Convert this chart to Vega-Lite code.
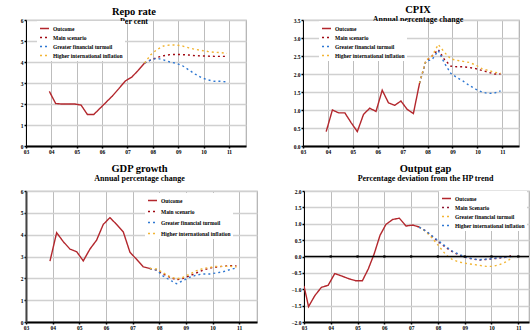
{
  "$schema": "https://vega.github.io/schema/vega-lite/v6.json",
  "background": "white",
  "padding": {"left": 19, "top": 3, "right": 2, "bottom": 2},
  "config": {
    "font": "Liberation Serif",
    "view": {"stroke": "#B0B0B0", "strokeWidth": 1.2},
    "axis": {
      "grid": true, "zindex": 1,
      "labelFont": "Liberation Serif", "labelFontSize": 5.5, "labelFontWeight": "bold", "labelColor": "#000",
      "domainColor": "#000", "tickColor": "#000", "tickSize": 2, "tickWidth": 1.5,
      "labelPadding": 1, "gridColor": "#BDBDBD", "gridOpacity": 1
    },
    "axisX": {"domainWidth": 1.8, "gridWidth": 1, "labelFlush": false},
    "axisY": {"domainWidth": 1, "gridWidth": 1.6, "gridColor": "#D0D0D0"},
    "legend": {
      "labelFont": "Liberation Serif", "labelFontSize": 5.5, "labelFontWeight": "bold", "labelColor": "#000",
      "symbolType": "stroke", "symbolSize": 81, "symbolStrokeWidth": 1.5, "labelOffset": 3, "padding": 2, "rowPadding": 0,
      "fillColor": "white", "zindex": 2
    },
    "title": {
      "anchor": "middle", "font": "Liberation Serif", "fontSize": 10.5, "fontWeight": "bold", "color": "#000",
      "subtitleFont": "Liberation Serif", "subtitleFontSize": 8, "subtitleFontWeight": "bold", "subtitleColor": "#000", "subtitlePadding": 1, "zindex": 2
    },
    "line": {"strokeWidth": 1.4}
  },
  "datasets": {
    "repo": [
      {"t":2003.92,"v":2.6,"s":"Outcome"},{"t":2004.17,"v":2.02,"s":"Outcome"},{"t":2004.42,"v":2.0,"s":"Outcome"},{"t":2004.67,"v":2.0,"s":"Outcome"},{"t":2004.92,"v":2.0,"s":"Outcome"},{"t":2005.17,"v":1.95,"s":"Outcome"},{"t":2005.42,"v":1.5,"s":"Outcome"},{"t":2005.67,"v":1.5,"s":"Outcome"},{"t":2005.92,"v":1.8,"s":"Outcome"},{"t":2006.17,"v":2.1,"s":"Outcome"},{"t":2006.42,"v":2.4,"s":"Outcome"},{"t":2006.67,"v":2.75,"s":"Outcome"},{"t":2006.92,"v":3.1,"s":"Outcome"},{"t":2007.17,"v":3.28,"s":"Outcome"},{"t":2007.42,"v":3.6,"s":"Outcome"},{"t":2007.67,"v":3.95,"s":"Outcome"},
      {"t":2007.67,"v":3.95,"s":"Main scenario"},{"t":2007.92,"v":4.1,"s":"Main scenario"},{"t":2008.17,"v":4.22,"s":"Main scenario"},{"t":2008.42,"v":4.3,"s":"Main scenario"},{"t":2008.67,"v":4.35,"s":"Main scenario"},{"t":2008.92,"v":4.36,"s":"Main scenario"},{"t":2009.17,"v":4.35,"s":"Main scenario"},{"t":2009.42,"v":4.33,"s":"Main scenario"},{"t":2009.67,"v":4.3,"s":"Main scenario"},{"t":2009.92,"v":4.29,"s":"Main scenario"},{"t":2010.17,"v":4.28,"s":"Main scenario"},{"t":2010.42,"v":4.27,"s":"Main scenario"},{"t":2010.67,"v":4.27,"s":"Main scenario"},{"t":2010.92,"v":4.27,"s":"Main scenario"},
      {"t":2007.67,"v":3.95,"s":"Greater financial turmoil"},{"t":2007.92,"v":4.1,"s":"Greater financial turmoil"},{"t":2008.17,"v":4.18,"s":"Greater financial turmoil"},{"t":2008.42,"v":4.1,"s":"Greater financial turmoil"},{"t":2008.67,"v":4.0,"s":"Greater financial turmoil"},{"t":2008.92,"v":3.94,"s":"Greater financial turmoil"},{"t":2009.17,"v":3.82,"s":"Greater financial turmoil"},{"t":2009.42,"v":3.62,"s":"Greater financial turmoil"},{"t":2009.67,"v":3.42,"s":"Greater financial turmoil"},{"t":2009.92,"v":3.25,"s":"Greater financial turmoil"},{"t":2010.17,"v":3.15,"s":"Greater financial turmoil"},{"t":2010.42,"v":3.08,"s":"Greater financial turmoil"},{"t":2010.67,"v":3.08,"s":"Greater financial turmoil"},{"t":2010.92,"v":3.05,"s":"Greater financial turmoil"},
      {"t":2007.67,"v":3.95,"s":"Higher international inflation"},{"t":2007.92,"v":4.35,"s":"Higher international inflation"},{"t":2008.17,"v":4.6,"s":"Higher international inflation"},{"t":2008.42,"v":4.76,"s":"Higher international inflation"},{"t":2008.67,"v":4.81,"s":"Higher international inflation"},{"t":2008.92,"v":4.81,"s":"Higher international inflation"},{"t":2009.17,"v":4.76,"s":"Higher international inflation"},{"t":2009.42,"v":4.67,"s":"Higher international inflation"},{"t":2009.67,"v":4.6,"s":"Higher international inflation"},{"t":2009.92,"v":4.55,"s":"Higher international inflation"},{"t":2010.17,"v":4.5,"s":"Higher international inflation"},{"t":2010.42,"v":4.46,"s":"Higher international inflation"},{"t":2010.67,"v":4.45,"s":"Higher international inflation"},{"t":2010.92,"v":4.41,"s":"Higher international inflation"}
    ],
    "cpix": [
      {"t":2003.93,"v":0.4,"s":"Outcome"},{"t":2004.18,"v":1.0,"s":"Outcome"},{"t":2004.43,"v":0.92,"s":"Outcome"},{"t":2004.68,"v":0.92,"s":"Outcome"},{"t":2004.93,"v":0.65,"s":"Outcome"},{"t":2005.18,"v":0.4,"s":"Outcome"},{"t":2005.43,"v":0.88,"s":"Outcome"},{"t":2005.68,"v":1.05,"s":"Outcome"},{"t":2005.93,"v":0.96,"s":"Outcome"},{"t":2006.18,"v":1.55,"s":"Outcome"},{"t":2006.43,"v":1.2,"s":"Outcome"},{"t":2006.68,"v":1.13,"s":"Outcome"},{"t":2006.93,"v":1.25,"s":"Outcome"},{"t":2007.18,"v":1.02,"s":"Outcome"},{"t":2007.43,"v":0.9,"s":"Outcome"},{"t":2007.68,"v":1.75,"s":"Outcome"},
      {"t":2007.68,"v":1.75,"s":"Main scenario"},{"t":2007.93,"v":2.35,"s":"Main scenario"},{"t":2008.18,"v":2.5,"s":"Main scenario"},{"t":2008.43,"v":2.68,"s":"Main scenario"},{"t":2008.68,"v":2.4,"s":"Main scenario"},{"t":2008.93,"v":2.22,"s":"Main scenario"},{"t":2009.18,"v":2.2,"s":"Main scenario"},{"t":2009.43,"v":2.2,"s":"Main scenario"},{"t":2009.68,"v":2.18,"s":"Main scenario"},{"t":2009.93,"v":2.15,"s":"Main scenario"},{"t":2010.18,"v":2.1,"s":"Main scenario"},{"t":2010.43,"v":2.05,"s":"Main scenario"},{"t":2010.68,"v":2.0,"s":"Main scenario"},{"t":2010.93,"v":2.0,"s":"Main scenario"},
      {"t":2007.68,"v":1.75,"s":"Greater financial turmoil"},{"t":2007.93,"v":2.35,"s":"Greater financial turmoil"},{"t":2008.18,"v":2.4,"s":"Greater financial turmoil"},{"t":2008.43,"v":2.65,"s":"Greater financial turmoil"},{"t":2008.68,"v":2.3,"s":"Greater financial turmoil"},{"t":2008.93,"v":2.02,"s":"Greater financial turmoil"},{"t":2009.18,"v":1.9,"s":"Greater financial turmoil"},{"t":2009.43,"v":1.8,"s":"Greater financial turmoil"},{"t":2009.68,"v":1.68,"s":"Greater financial turmoil"},{"t":2009.93,"v":1.58,"s":"Greater financial turmoil"},{"t":2010.18,"v":1.5,"s":"Greater financial turmoil"},{"t":2010.43,"v":1.46,"s":"Greater financial turmoil"},{"t":2010.68,"v":1.47,"s":"Greater financial turmoil"},{"t":2010.93,"v":1.53,"s":"Greater financial turmoil"},
      {"t":2007.68,"v":1.75,"s":"Higher international inflation"},{"t":2007.93,"v":2.38,"s":"Higher international inflation"},{"t":2008.18,"v":2.5,"s":"Higher international inflation"},{"t":2008.43,"v":2.82,"s":"Higher international inflation"},{"t":2008.68,"v":2.6,"s":"Higher international inflation"},{"t":2008.93,"v":2.42,"s":"Higher international inflation"},{"t":2009.18,"v":2.38,"s":"Higher international inflation"},{"t":2009.43,"v":2.35,"s":"Higher international inflation"},{"t":2009.68,"v":2.32,"s":"Higher international inflation"},{"t":2009.93,"v":2.25,"s":"Higher international inflation"},{"t":2010.18,"v":2.15,"s":"Higher international inflation"},{"t":2010.43,"v":2.1,"s":"Higher international inflation"},{"t":2010.68,"v":2.05,"s":"Higher international inflation"},{"t":2010.93,"v":2.02,"s":"Higher international inflation"}
    ],
    "gdp": [
      {"t":2003.9,"v":2.79,"s":"Outcome"},{"t":2004.15,"v":4.09,"s":"Outcome"},{"t":2004.4,"v":3.68,"s":"Outcome"},{"t":2004.65,"v":3.34,"s":"Outcome"},{"t":2004.9,"v":3.22,"s":"Outcome"},{"t":2005.15,"v":2.8,"s":"Outcome"},{"t":2005.4,"v":3.34,"s":"Outcome"},{"t":2005.65,"v":3.75,"s":"Outcome"},{"t":2005.9,"v":4.47,"s":"Outcome"},{"t":2006.15,"v":4.78,"s":"Outcome"},{"t":2006.4,"v":4.47,"s":"Outcome"},{"t":2006.65,"v":4.13,"s":"Outcome"},{"t":2006.9,"v":3.2,"s":"Outcome"},{"t":2007.15,"v":2.87,"s":"Outcome"},{"t":2007.4,"v":2.53,"s":"Outcome"},{"t":2007.65,"v":2.45,"s":"Outcome"},
      {"t":2007.65,"v":2.45,"s":"Main scenario"},{"t":2007.9,"v":2.38,"s":"Main scenario"},{"t":2008.15,"v":2.2,"s":"Main scenario"},{"t":2008.4,"v":2.05,"s":"Main scenario"},{"t":2008.65,"v":1.93,"s":"Main scenario"},{"t":2008.9,"v":2.0,"s":"Main scenario"},{"t":2009.15,"v":2.12,"s":"Main scenario"},{"t":2009.4,"v":2.25,"s":"Main scenario"},{"t":2009.65,"v":2.38,"s":"Main scenario"},{"t":2009.9,"v":2.47,"s":"Main scenario"},{"t":2010.15,"v":2.52,"s":"Main scenario"},{"t":2010.4,"v":2.55,"s":"Main scenario"},{"t":2010.65,"v":2.58,"s":"Main scenario"},{"t":2010.9,"v":2.57,"s":"Main scenario"},
      {"t":2007.65,"v":2.45,"s":"Greater financial turmoil"},{"t":2007.9,"v":2.38,"s":"Greater financial turmoil"},{"t":2008.15,"v":2.1,"s":"Greater financial turmoil"},{"t":2008.4,"v":1.92,"s":"Greater financial turmoil"},{"t":2008.65,"v":1.75,"s":"Greater financial turmoil"},{"t":2008.9,"v":1.9,"s":"Greater financial turmoil"},{"t":2009.15,"v":2.05,"s":"Greater financial turmoil"},{"t":2009.4,"v":2.15,"s":"Greater financial turmoil"},{"t":2009.65,"v":2.2,"s":"Greater financial turmoil"},{"t":2009.9,"v":2.2,"s":"Greater financial turmoil"},{"t":2010.15,"v":2.25,"s":"Greater financial turmoil"},{"t":2010.4,"v":2.3,"s":"Greater financial turmoil"},{"t":2010.65,"v":2.4,"s":"Greater financial turmoil"},{"t":2010.9,"v":2.48,"s":"Greater financial turmoil"},
      {"t":2007.65,"v":2.45,"s":"Higher international inflation"},{"t":2007.9,"v":2.43,"s":"Higher international inflation"},{"t":2008.15,"v":2.25,"s":"Higher international inflation"},{"t":2008.4,"v":2.08,"s":"Higher international inflation"},{"t":2008.65,"v":1.97,"s":"Higher international inflation"},{"t":2008.9,"v":2.05,"s":"Higher international inflation"},{"t":2009.15,"v":2.2,"s":"Higher international inflation"},{"t":2009.4,"v":2.35,"s":"Higher international inflation"},{"t":2009.65,"v":2.45,"s":"Higher international inflation"},{"t":2009.9,"v":2.5,"s":"Higher international inflation"},{"t":2010.15,"v":2.55,"s":"Higher international inflation"},{"t":2010.4,"v":2.55,"s":"Higher international inflation"},{"t":2010.65,"v":2.55,"s":"Higher international inflation"},{"t":2010.9,"v":2.52,"s":"Higher international inflation"}
    ],
    "gap": [
      {"t":2003.0,"v":-0.9,"s":"Outcome"},{"t":2003.17,"v":-1.53,"s":"Outcome"},{"t":2003.4,"v":-1.2,"s":"Outcome"},{"t":2003.65,"v":-0.94,"s":"Outcome"},{"t":2003.9,"v":-0.88,"s":"Outcome"},{"t":2004.15,"v":-0.52,"s":"Outcome"},{"t":2004.42,"v":-0.6,"s":"Outcome"},{"t":2004.68,"v":-0.68,"s":"Outcome"},{"t":2004.93,"v":-0.74,"s":"Outcome"},{"t":2005.18,"v":-0.74,"s":"Outcome"},{"t":2005.4,"v":-0.38,"s":"Outcome"},{"t":2005.62,"v":0.08,"s":"Outcome"},{"t":2005.84,"v":0.65,"s":"Outcome"},{"t":2006.06,"v":0.98,"s":"Outcome"},{"t":2006.31,"v":1.13,"s":"Outcome"},{"t":2006.56,"v":1.17,"s":"Outcome"},{"t":2006.81,"v":0.93,"s":"Outcome"},{"t":2007.06,"v":0.96,"s":"Outcome"},{"t":2007.3,"v":0.9,"s":"Outcome"},
      {"t":2007.3,"v":0.9,"s":"Main Scenario"},{"t":2007.55,"v":0.78,"s":"Main Scenario"},{"t":2007.8,"v":0.6,"s":"Main Scenario"},{"t":2008.05,"v":0.43,"s":"Main Scenario"},{"t":2008.3,"v":0.27,"s":"Main Scenario"},{"t":2008.55,"v":0.14,"s":"Main Scenario"},{"t":2008.8,"v":0.04,"s":"Main Scenario"},{"t":2009.05,"v":-0.03,"s":"Main Scenario"},{"t":2009.3,"v":-0.08,"s":"Main Scenario"},{"t":2009.55,"v":-0.11,"s":"Main Scenario"},{"t":2009.8,"v":-0.09,"s":"Main Scenario"},{"t":2010.05,"v":-0.07,"s":"Main Scenario"},{"t":2010.3,"v":-0.05,"s":"Main Scenario"},{"t":2010.55,"v":-0.02,"s":"Main Scenario"},{"t":2010.8,"v":0.04,"s":"Main Scenario"},
      {"t":2007.3,"v":0.9,"s":"Greater financial turmoil"},{"t":2007.55,"v":0.76,"s":"Greater financial turmoil"},{"t":2007.8,"v":0.55,"s":"Greater financial turmoil"},{"t":2008.05,"v":0.3,"s":"Greater financial turmoil"},{"t":2008.3,"v":0.05,"s":"Greater financial turmoil"},{"t":2008.55,"v":-0.1,"s":"Greater financial turmoil"},{"t":2008.8,"v":-0.17,"s":"Greater financial turmoil"},{"t":2009.05,"v":-0.21,"s":"Greater financial turmoil"},{"t":2009.3,"v":-0.24,"s":"Greater financial turmoil"},{"t":2009.55,"v":-0.27,"s":"Greater financial turmoil"},{"t":2009.8,"v":-0.3,"s":"Greater financial turmoil"},{"t":2010.05,"v":-0.3,"s":"Greater financial turmoil"},{"t":2010.3,"v":-0.25,"s":"Greater financial turmoil"},{"t":2010.55,"v":-0.16,"s":"Greater financial turmoil"},{"t":2010.8,"v":-0.02,"s":"Greater financial turmoil"},
      {"t":2007.3,"v":0.9,"s":"Higher international inflation"},{"t":2007.55,"v":0.78,"s":"Higher international inflation"},{"t":2007.8,"v":0.62,"s":"Higher international inflation"},{"t":2008.05,"v":0.46,"s":"Higher international inflation"},{"t":2008.3,"v":0.3,"s":"Higher international inflation"},{"t":2008.55,"v":0.16,"s":"Higher international inflation"},{"t":2008.8,"v":0.06,"s":"Higher international inflation"},{"t":2009.05,"v":-0.02,"s":"Higher international inflation"},{"t":2009.3,"v":-0.07,"s":"Higher international inflation"},{"t":2009.55,"v":-0.1,"s":"Higher international inflation"},{"t":2009.8,"v":-0.08,"s":"Higher international inflation"},{"t":2010.05,"v":-0.06,"s":"Higher international inflation"},{"t":2010.3,"v":-0.03,"s":"Higher international inflation"},{"t":2010.55,"v":-0.02,"s":"Higher international inflation"},{"t":2010.8,"v":0.0,"s":"Higher international inflation"}
    ]
  },
  "resolve": {"scale": {"color": "independent", "strokeDash": "independent"}, "legend": {"color": "independent", "strokeDash": "independent"}},
  "spacing": 6,
  "vconcat": [
    {
      "spacing": 45,
      "resolve": {"scale": {"color": "independent", "strokeDash": "independent"}, "legend": {"color": "independent", "strokeDash": "independent"}},
      "hconcat": [
        {
          "width": 220, "height": 126,
          "title": {"text": "Repo rate", "subtitle": "Per cent", "offset": -8, "dx": -2},
          "data": {"name": "repo"},
          "mark": {"type": "line"},
          "encoding": {
            "x": {"field": "t", "type": "quantitative", "title": null, "scale": {"domain": [2003, 2011.67], "nice": false, "zero": false}, "axis": {"values": [2003,2004,2005,2006,2007,2008,2009,2010,2011], "format": "d", "labelExpr": "substring(datum.label, 2)"}},
            "y": {"field": "v", "type": "quantitative", "title": null, "scale": {"domain": [0, 6], "nice": false}, "axis": {"values": [0,1,2,3,4,5,6], "format": "d"}},
            "color": {"field": "s", "type": "nominal", "title": null, "scale": {"domain": ["Outcome","Main scenario","Greater financial turmoil","Higher international inflation"], "range": ["#B3272D","#A00812","#2F78D2","#F2B534"]}, "legend": {"orient": "none", "legendX": 11, "legendY": 1}},
            "strokeDash": {"field": "s", "type": "nominal", "title": null, "scale": {"domain": ["Outcome","Main scenario","Greater financial turmoil","Higher international inflation"], "range": [[1,0],[2,3],[2,3],[2,3]]}, "legend": {"orient": "none", "legendX": 11, "legendY": 1}}
          }
        },
        {
          "width": 216, "height": 126,
          "title": {"text": "CPIX", "subtitle": "Annual percentage change", "offset": -6, "dx": 7},
          "data": {"name": "cpix"},
          "mark": {"type": "line"},
          "encoding": {
            "x": {"field": "t", "type": "quantitative", "title": null, "scale": {"domain": [2003, 2011.67], "nice": false, "zero": false}, "axis": {"values": [2003,2004,2005,2006,2007,2008,2009,2010,2011], "format": "d", "labelExpr": "substring(datum.label, 2)"}},
            "y": {"field": "v", "type": "quantitative", "title": null, "scale": {"domain": [0, 3.5], "nice": false}, "axis": {"values": [0,0.5,1,1.5,2,2.5,3,3.5], "format": ".1f"}},
            "color": {"field": "s", "type": "nominal", "title": null, "scale": {"domain": ["Outcome","Main scenario","Greater financial turmoil","Higher international inflation"], "range": ["#B3272D","#A00812","#2F78D2","#F2B534"]}, "legend": {"orient": "none", "legendX": 16, "legendY": 1}},
            "strokeDash": {"field": "s", "type": "nominal", "title": null, "scale": {"domain": ["Outcome","Main scenario","Greater financial turmoil","Higher international inflation"], "range": [[1,0],[2,3],[2,3],[2,3]]}, "legend": {"orient": "none", "legendX": 16, "legendY": 1}}
          }
        }
      ]
    },
    {
      "spacing": 32,
      "resolve": {"scale": {"color": "independent", "strokeDash": "independent"}, "legend": {"color": "independent", "strokeDash": "independent"}},
      "hconcat": [
        {
          "width": 231, "height": 131,
          "title": {"text": "GDP growth", "subtitle": "Annual percentage change", "offset": 6, "dx": -2},
          "data": {"name": "gdp"},
          "mark": {"type": "line"},
          "encoding": {
            "x": {"field": "t", "type": "quantitative", "title": null, "scale": {"domain": [2003, 2011.67], "nice": false, "zero": false}, "axis": {"values": [2003,2004,2005,2006,2007,2008,2009,2010,2011], "format": "d", "labelExpr": "substring(datum.label, 2)"}},
            "y": {"field": "v", "type": "quantitative", "title": null, "scale": {"domain": [0, 6], "nice": false}, "axis": {"values": [0,1,2,3,4,5,6], "format": "d", "domainWidth": 2, "domainColor": "#444"}},
            "color": {"field": "s", "type": "nominal", "title": null, "scale": {"domain": ["Outcome","Main scenario","Greater financial turmoil","Higher international inflation"], "range": ["#B3272D","#A00812","#2F78D2","#F2B534"]}, "legend": {"orient": "none", "legendX": 119, "legendY": 2, "rowPadding": 2}},
            "strokeDash": {"field": "s", "type": "nominal", "title": null, "scale": {"domain": ["Outcome","Main scenario","Greater financial turmoil","Higher international inflation"], "range": [[1,0],[2,3],[2,3],[2,3]]}, "legend": {"orient": "none", "legendX": 119, "legendY": 2, "rowPadding": 2}}
          }
        },
        {
          "width": 225, "height": 131,
          "title": {"text": "Output gap", "subtitle": "Percentage deviation from the HP trend", "offset": 6, "dx": 9},
          "layer": [
            {
              "data": {"name": "gap"},
              "mark": {"type": "line", "clip": true},
              "encoding": {
                "x": {"field": "t", "type": "quantitative", "title": null, "scale": {"domain": [2003, 2011.4], "nice": false, "zero": false}, "axis": {"values": [2003,2004,2005,2006,2007,2008,2009,2010,2011], "format": "d", "labelExpr": "substring(datum.label, 2)"}},
                "y": {"field": "v", "type": "quantitative", "title": null, "scale": {"domain": [-2, 2], "nice": false}, "axis": {"values": [-2,-1.5,-1,-0.5,0,0.5,1,1.5,2], "format": ".1f"}},
                "color": {"field": "s", "type": "nominal", "title": null, "scale": {"domain": ["Outcome","Main Scenario","Greater financial turmoil","Higher international inflation"], "range": ["#B3272D","#8E1530","#F2B534","#2F78D2"]}, "legend": {"orient": "none", "legendX": 135, "legendY": 0}},
                "strokeDash": {"field": "s", "type": "nominal", "title": null, "scale": {"domain": ["Outcome","Main Scenario","Greater financial turmoil","Higher international inflation"], "range": [[1,0],[2,3],[2,3],[2,3]]}, "legend": {"orient": "none", "legendX": 135, "legendY": 0}}
              }
            },
            {
              "data": {"values": [{"zero": 0}]},
              "mark": {"type": "rule", "color": "#000", "strokeWidth": 1.5},
              "encoding": {"y": {"field": "zero", "type": "quantitative", "title": null, "axis": {"values": [-2,-1.5,-1,-0.5,0,0.5,1,1.5,2], "format": ".1f"}}}
            },
            {
              "data": {"values": [{"yr": 2004, "zero": 0}, {"yr": 2005, "zero": 0}, {"yr": 2006, "zero": 0}, {"yr": 2007, "zero": 0}, {"yr": 2008, "zero": 0}, {"yr": 2009, "zero": 0}, {"yr": 2010, "zero": 0}, {"yr": 2011, "zero": 0}]},
              "mark": {"type": "square", "color": "#000", "filled": true, "size": 5, "opacity": 1},
              "encoding": {
                "x": {"field": "yr", "type": "quantitative", "title": null, "axis": {"values": [2003,2004,2005,2006,2007,2008,2009,2010,2011], "format": "d", "labelExpr": "substring(datum.label, 2)"}},
                "y": {"field": "zero", "type": "quantitative", "title": null, "axis": {"values": [-2,-1.5,-1,-0.5,0,0.5,1,1.5,2], "format": ".1f"}}
              }
            }
          ]
        }
      ]
    }
  ]
}
